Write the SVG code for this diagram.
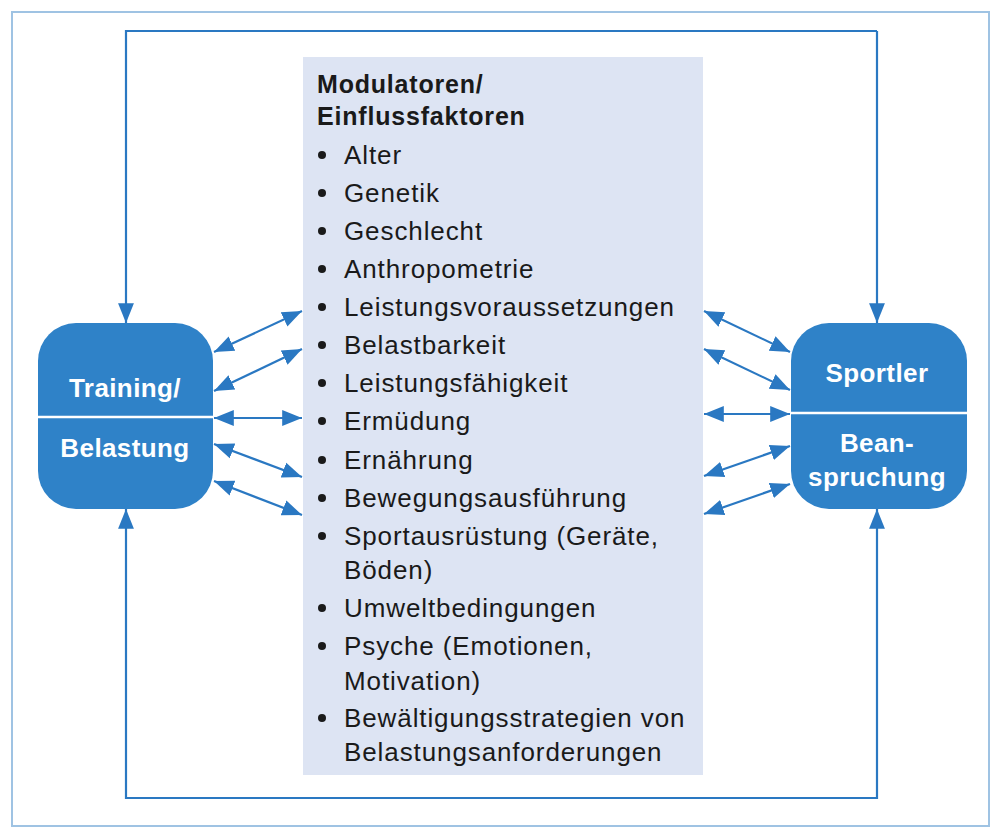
<svg xmlns="http://www.w3.org/2000/svg" width="1000" height="838" viewBox="0 0 1000 838">
<defs>
<marker id="ah" viewBox="0 0 10 10" refX="10" refY="5" markerWidth="8" markerHeight="7" markerUnits="userSpaceOnUse" orient="auto-start-reverse"><path d="M0,0 L10,5 L0,10 z" fill="#2a78c2"/></marker>
<marker id="ah2" viewBox="0 0 10 10" refX="10" refY="5" markerWidth="9" markerHeight="9" orient="auto-start-reverse"><path d="M0,1 L10,5 L0,9 z" fill="#2a78c2"/></marker>
<style>
.ln{stroke:#2a78c2;stroke-width:2.2;fill:none}
.nd{fill:#2f82c8}
.nt{font-family:"Liberation Sans",Arial,sans-serif;font-weight:bold;font-size:26px;letter-spacing:0.4px;fill:#fff;text-anchor:middle}
.bt{font-family:"Liberation Sans",Arial,sans-serif;font-size:26px;letter-spacing:0.9px;fill:#1a1a1a}
.tt{font-family:"Liberation Sans",Arial,sans-serif;font-size:25px;letter-spacing:0.8px;font-weight:bold;fill:#1a1a1a}
</style>
</defs>
<rect width="1000" height="838" fill="#fff"/>
<rect x="12" y="12" width="977" height="814" fill="#fff" stroke="#9fc3e3" stroke-width="2"/>
<g id="center">
<rect x="303" y="57" width="400" height="718" fill="#dde4f3"/>
<text class="tt" x="317" y="93">Modulatoren/</text>
<text class="tt" x="317" y="125">Einflussfaktoren</text>
<g fill="#1a1a1a">
<circle cx="322" cy="155" r="4"/><circle cx="322" cy="193" r="4"/><circle cx="322" cy="231" r="4"/><circle cx="322" cy="269" r="4"/><circle cx="322" cy="307" r="4"/><circle cx="322" cy="345" r="4"/><circle cx="322" cy="383" r="4"/><circle cx="322" cy="421" r="4"/><circle cx="322" cy="460" r="4"/><circle cx="322" cy="498" r="4"/><circle cx="322" cy="536" r="4"/><circle cx="322" cy="608" r="4"/><circle cx="322" cy="646" r="4"/><circle cx="322" cy="718" r="4"/>
</g>
<g class="bt">
<text x="344" y="164">Alter</text>
<text x="344" y="202">Genetik</text>
<text x="344" y="240">Geschlecht</text>
<text x="344" y="278">Anthropometrie</text>
<text x="344" y="316">Leistungsvoraussetzungen</text>
<text x="344" y="354">Belastbarkeit</text>
<text x="344" y="392">Leistungsfähigkeit</text>
<text x="344" y="430">Ermüdung</text>
<text x="344" y="469">Ernährung</text>
<text x="344" y="507">Bewegungsausführung</text>
<text x="344" y="545">Sportausrüstung (Geräte,</text>
<text x="344" y="579">Böden)</text>
<text x="344" y="617">Umweltbedingungen</text>
<text x="344" y="655">Psyche (Emotionen,</text>
<text x="344" y="690">Motivation)</text>
<text x="344" y="727">Bewältigungsstrategien von</text>
<text x="344" y="761">Belastungsanforderungen</text>
</g>
</g>
<g id="training">
<rect class="nd" x="38" y="323" width="175" height="186" rx="38"/>
<line x1="38" y1="417" x2="213" y2="417" stroke="#fff" stroke-width="2.5"/>
<text class="nt" x="125" y="397">Training/</text>
<text class="nt" x="125" y="457">Belastung</text>
</g>
<g id="sportler">
<rect class="nd" x="791" y="323" width="176" height="186" rx="38"/>
<line x1="791" y1="413" x2="967" y2="413" stroke="#fff" stroke-width="2.5"/>
<text class="nt" x="877" y="382">Sportler</text>
<text class="nt" x="877" y="452">Bean-</text>
<text class="nt" x="877" y="486">spruchung</text>
</g>
<g id="connectors">
<polyline class="ln" points="877,31 126,31 126,323" marker-end="url(#ah2)"/>
<line class="ln" x1="877" y1="31" x2="877" y2="323" marker-end="url(#ah2)"/>
<polyline class="ln" points="126,509 126,798 877,798 877,509" marker-start="url(#ah2)" marker-end="url(#ah2)"/>
<g marker-start="url(#ah2)" marker-end="url(#ah2)">
<line class="ln" x1="214" y1="352" x2="302" y2="311"/>
<line class="ln" x1="214" y1="391" x2="302" y2="349"/>
<line class="ln" x1="214" y1="418" x2="302" y2="418"/>
<line class="ln" x1="214" y1="444" x2="302" y2="477"/>
<line class="ln" x1="214" y1="481" x2="302" y2="515"/>
<line class="ln" x1="704" y1="311" x2="790" y2="352"/>
<line class="ln" x1="704" y1="349" x2="790" y2="390"/>
<line class="ln" x1="704" y1="414" x2="790" y2="414"/>
<line class="ln" x1="704" y1="476" x2="790" y2="446"/>
<line class="ln" x1="704" y1="514" x2="790" y2="484"/>
</g>
</g>
</svg>
